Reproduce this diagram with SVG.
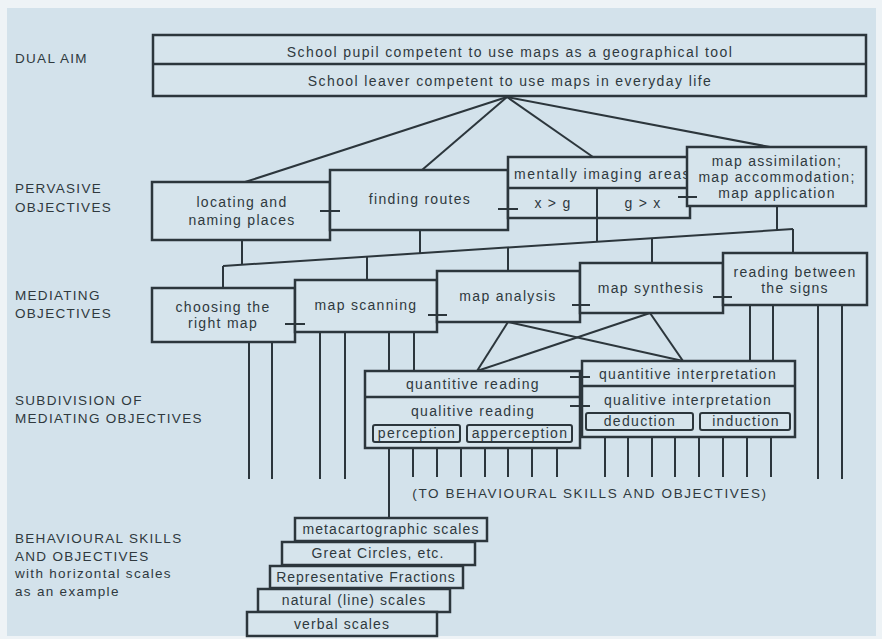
<svg xmlns="http://www.w3.org/2000/svg" width="882" height="639" viewBox="0 0 882 639">
<style>
.bx{fill:#d6e4ec;stroke:#2c363c;stroke-width:2.5}
.sb{fill:#d6e4ec;stroke:#2c363c;stroke-width:2}
.ln{stroke:#2c363c;stroke-width:2;fill:none}
.t{font-family:"Liberation Sans",Arial,sans-serif;font-size:14px;fill:#2f393e;letter-spacing:1.3px;text-anchor:middle}
.lb{font-family:"Liberation Sans",Arial,sans-serif;font-size:13.5px;fill:#2f393e;letter-spacing:1.3px}
</style>
<rect x="0" y="0" width="882" height="639" fill="#eef3f6"/>
<rect x="7" y="8" width="869" height="628" fill="#d3e2eb"/>

<g id="labels">
<text class="lb" x="15" y="63">DUAL AIM</text>
<text class="lb" x="15" y="193">PERVASIVE</text>
<text class="lb" x="15" y="212">OBJECTIVES</text>
<text class="lb" x="15" y="300">MEDIATING</text>
<text class="lb" x="15" y="318">OBJECTIVES</text>
<text class="lb" x="15" y="405">SUBDIVISION OF</text>
<text class="lb" x="15" y="423">MEDIATING OBJECTIVES</text>
<text class="lb" x="15" y="543">BEHAVIOURAL SKILLS</text>
<text class="lb" x="15" y="561">AND OBJECTIVES</text>
<text class="lb" x="15" y="578">with horizontal scales</text>
<text class="lb" x="15" y="596">as an example</text>
<text class="lb" x="590" y="498" text-anchor="middle" style="letter-spacing:1.6px">(TO BEHAVIOURAL SKILLS AND OBJECTIVES)</text>
</g>

<g id="connectors">
<line class="ln" x1="507" y1="97" x2="245" y2="182"/>
<line class="ln" x1="507" y1="97" x2="422" y2="170"/>
<line class="ln" x1="507" y1="97" x2="593" y2="157"/>
<line class="ln" x1="507" y1="97" x2="770" y2="147"/>
<line class="ln" x1="242" y1="240" x2="242" y2="265"/>
<line class="ln" x1="420" y1="230" x2="420" y2="253.2"/>
<line class="ln" x1="597" y1="218" x2="597" y2="241.7"/>
<line class="ln" x1="777" y1="206" x2="777" y2="230.1"/>
<line class="ln" x1="223" y1="266" x2="793" y2="229"/>
<line class="ln" x1="223" y1="266" x2="223" y2="288"/>
<line class="ln" x1="367" y1="256.7" x2="367" y2="280"/>
<line class="ln" x1="508" y1="247.5" x2="508" y2="271"/>
<line class="ln" x1="652" y1="238.2" x2="652" y2="263"/>
<line class="ln" x1="793" y1="229" x2="793" y2="253"/>
<line class="ln" x1="508" y1="322" x2="477" y2="371"/>
<line class="ln" x1="508" y1="322" x2="683" y2="361"/>
<line class="ln" x1="650" y1="313" x2="477" y2="371"/>
<line class="ln" x1="650" y1="313" x2="683" y2="361"/>
<path class="ln" d="M249 342V479M272 342V479M320 332V479M345 332V479M389 332V371M414 332V371M750 305V361M773 305V361M818 305V479M842 305V479"/>
<path class="ln" d="M389 448V518M413 448V477M437 448V477M461 448V477M485 448V477M508 448V477M532 448V477M557 448V477"/>
<path class="ln" d="M605 437V477M628 437V477M652 437V477M675 437V477M699 437V477M723 437V477M747 437V477M771 437V477"/>
</g>

<g id="dual-aim">
<rect class="bx" x="153" y="35" width="713" height="61"/>
<line class="ln" x1="153" y1="64" x2="866" y2="64" style="stroke-width:2.5"/>
<text class="t" x="510" y="57" style="letter-spacing:1.4px">School pupil competent to use maps as a geographical tool</text>
<text class="t" x="510" y="86" style="letter-spacing:1.4px">School leaver competent to use maps in everyday life</text>
</g>

<g id="locating">
<rect class="bx" x="152" y="182" width="178" height="58"/>
<text class="t" x="242" y="207">locating and</text>
<text class="t" x="242" y="225">naming places</text>
</g>
<g id="finding-routes">
<rect class="bx" x="330" y="170" width="178" height="60"/>
<text class="t" x="420" y="204">finding routes</text>
</g>
<g id="mentally-imaging">
<rect class="bx" x="508" y="157" width="182" height="61"/>
<line class="ln" x1="508" y1="188" x2="690" y2="188" style="stroke-width:2.5"/>
<line class="ln" x1="597" y1="188" x2="597" y2="218"/>
<text class="t" x="514" y="179" style="text-anchor:start;letter-spacing:1.5px">mentally imaging areas</text>
<text class="t" x="553" y="208">x &gt; g</text>
<text class="t" x="643" y="208">g &gt; x</text>
</g>
<g id="map-assimilation">
<rect class="bx" x="687" y="147" width="179" height="59"/>
<text class="t" x="777" y="166">map assimilation;</text>
<text class="t" x="777" y="182">map accommodation;</text>
<text class="t" x="777" y="198">map application</text>
</g>

<g id="choosing">
<rect class="bx" x="152" y="288" width="143" height="54"/>
<text class="t" x="223" y="312">choosing the</text>
<text class="t" x="223" y="328">right map</text>
</g>
<g id="map-scanning">
<rect class="bx" x="295" y="280" width="142" height="52"/>
<text class="t" x="366" y="310">map scanning</text>
</g>
<g id="map-analysis">
<rect class="bx" x="437" y="271" width="143" height="51"/>
<text class="t" x="508" y="301">map analysis</text>
</g>
<g id="map-synthesis">
<rect class="bx" x="580" y="263" width="143" height="50"/>
<text class="t" x="651" y="293">map synthesis</text>
</g>
<g id="reading-between">
<rect class="bx" x="723" y="253" width="144" height="52"/>
<text class="t" x="795" y="277">reading between</text>
<text class="t" x="795" y="293">the signs</text>
</g>

<g id="reading">
<rect class="bx" x="365" y="371" width="215" height="77"/>
<line class="ln" x1="365" y1="397" x2="580" y2="397" style="stroke-width:2.5"/>
<text class="t" x="473" y="389">quantitive reading</text>
<text class="t" x="473" y="416">qualitive reading</text>
<rect class="sb" x="373" y="425" width="87" height="17" rx="2"/>
<text class="t" x="417" y="438">perception</text>
<rect class="sb" x="467" y="425" width="105" height="17" rx="2"/>
<text class="t" x="520" y="438">apperception</text>
</g>
<g id="interpretation">
<rect class="bx" x="582" y="361" width="213" height="76"/>
<line class="ln" x1="582" y1="386" x2="795" y2="386" style="stroke-width:2.5"/>
<text class="t" x="688" y="379">quantitive interpretation</text>
<text class="t" x="688" y="405">qualitive interpretation</text>
<rect class="sb" x="586" y="413" width="107" height="17" rx="2"/>
<text class="t" x="640" y="426">deduction</text>
<rect class="sb" x="700" y="413" width="90" height="17" rx="2"/>
<text class="t" x="746" y="426">induction</text>
</g>

<g id="ticks">
<path class="ln" d="M320 211H340M498 209H518M678 197H697M285 324H305M428 315H447M572 305H590M713 297H732M570 377H590M570 406H590"/>
</g>

<g id="metacartographic">
<rect class="bx" x="295" y="518" width="192" height="23"/>
<text class="t" x="391" y="534" style="letter-spacing:1.1px">metacartographic scales</text>
</g>
<g id="great-circles">
<rect class="bx" x="282" y="542" width="193" height="23"/>
<text class="t" x="378" y="558" style="letter-spacing:1.1px">Great Circles, etc.</text>
</g>
<g id="representative-fractions">
<rect class="bx" x="270" y="566" width="193" height="22"/>
<text class="t" x="366" y="582" style="letter-spacing:1px">Representative Fractions</text>
</g>
<g id="natural-scales">
<rect class="bx" x="258" y="589" width="192" height="23"/>
<text class="t" x="354" y="605" style="letter-spacing:1.1px">natural (line) scales</text>
</g>
<g id="verbal-scales">
<rect class="bx" x="247" y="612" width="190" height="24"/>
<text class="t" x="342" y="629" style="letter-spacing:1.1px">verbal scales</text>
</g>
</svg>
